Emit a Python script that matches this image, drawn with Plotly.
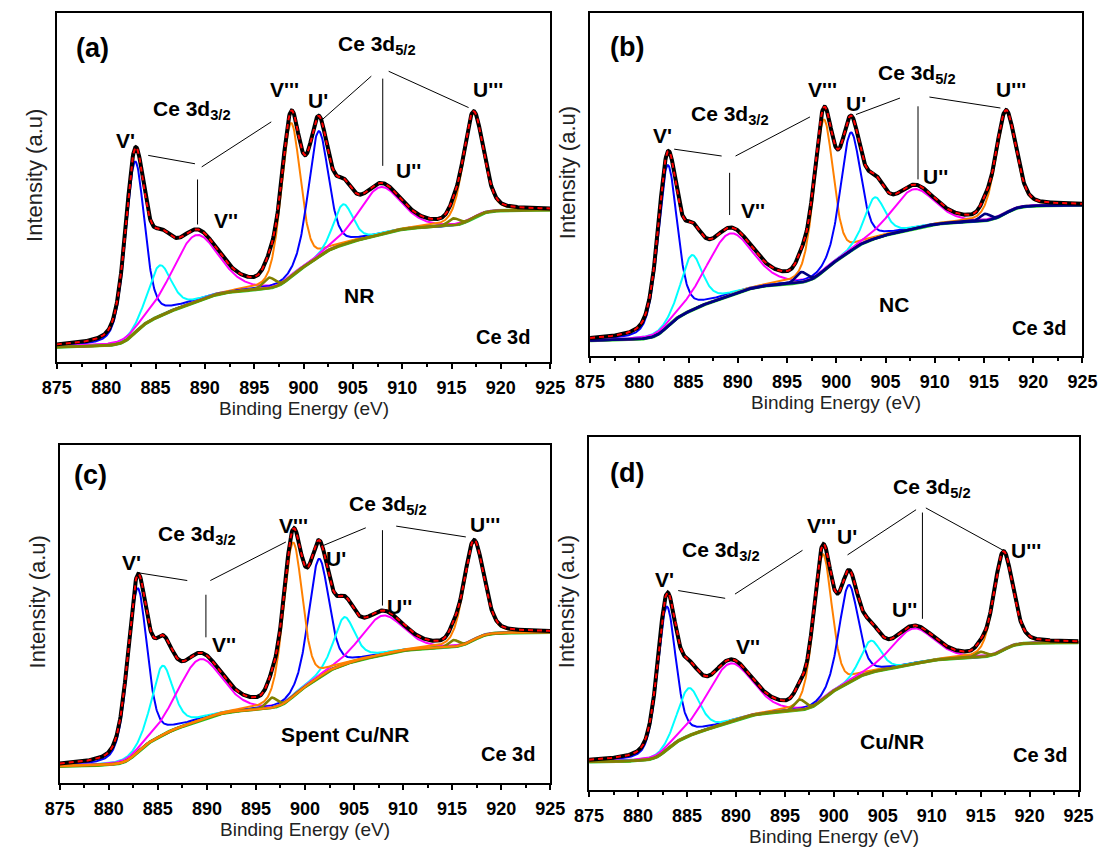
import numpy as np
import plotly.graph_objects as go

W, H = 1114, 848

# ---------------- data ----------------
# binding-energy grid of the spectra (eV)
energy = np.round(np.arange(875.0, 925.0001, 0.05), 3)

peak_names = ["V'", "V sat", "V''", "sat1", "V'''", "U'", "U sat", "U''", "sat2", "U'''"]

# (a) NR
a_centers = [882.9, 885.4, 889.0, 896.5, 898.7, 901.5, 904.0, 907.7, 915.2, 917.2]
a_heights = [49.0, 14.5, 19.0, 3.0, 44.0, 36.0, 11.5, 13.5, 2.0, 30.0]
a_fwhm    = [2.3, 2.8, 5.5, 1.4, 2.3, 2.4, 2.3, 5.0, 1.3, 2.4]
a_mix     = [0.35, 0.35, 0.3, 0.2, 0.3, 0.3, 0.3, 0.3, 0.2, 0.3]
a_bg      = [4.3, 43.6]

# (b) NC
b_centers = [882.85, 885.3, 889.1, 896.45, 898.7, 901.45, 903.9, 907.8, 915.1, 917.2]
b_heights = [47.0, 16.0, 18.0, 3.0, 44.0, 34.5, 12.0, 11.5, 2.0, 29.5]
b_fwhm    = [2.3, 2.6, 5.5, 1.3, 2.3, 2.4, 2.4, 5.0, 1.2, 2.4]
b_mix     = [0.35, 0.5, 0.3, 0.2, 0.3, 0.3, 0.45, 0.3, 0.2, 0.3]
b_bg      = [4.5, 44.0]

# (c) Spent Cu/NR
c_centers = [882.9, 885.45, 889.2, 896.6, 898.75, 901.4, 904.0, 907.85, 915.15, 917.2]
c_heights = [48.5, 20.5, 18.0, 3.0, 45.5, 35.0, 14.0, 11.5, 2.0, 29.0]
c_fwhm    = [2.3, 2.6, 5.3, 1.3, 2.3, 2.4, 2.5, 5.0, 1.2, 2.4]
c_mix     = [0.35, 0.45, 0.3, 0.2, 0.3, 0.3, 0.5, 0.3, 0.2, 0.3]
c_bg      = [5.0, 44.6]

# (d) Cu/NR
d_centers = [882.9, 885.15, 889.3, 896.5, 898.85, 901.5, 903.75, 908.05, 915.0, 917.3]
d_heights = [40.5, 13.5, 16.5, 3.0, 41.0, 27.5, 9.0, 10.0, 1.5, 27.5]
d_fwhm    = [2.2, 2.7, 5.4, 1.3, 2.2, 2.3, 2.4, 5.0, 1.2, 2.3]
d_mix     = [0.35, 0.35, 0.3, 0.2, 0.3, 0.3, 0.3, 0.3, 0.2, 0.3]
d_bg      = [8.0, 41.8]

sample_names = ["NR", "NC", "Spent Cu/NR", "Cu/NR"]
panel_letters = ["(a)", "(b)", "(c)", "(d)"]
tick_values = [875, 880, 885, 890, 895, 900, 905, 910, 915, 920, 925]

# ---------------- styling / layout ----------------
FONT = "Liberation Sans, Arial, sans-serif"
BLUE, CYAN, MAG, ORANGE = "#0000FF", "#00FFFF", "#FF00FF", "#FF8000"
OLIVE, NAVY, LIME = "#808000", "#000080", "#22CC22"

# pixel boxes of the four frames: left, right, top, bottom
boxes = [(43, 550, 13, 362), (591, 1097, 13, 356), (46, 550, 445, 783), (590, 1093, 437, 790)]

panels = [
    dict(c=a_centers, h=a_heights, w=a_fwhm, m=a_mix, bg=a_bg, sat=OLIVE, last_orange=False),
    dict(c=b_centers, h=b_heights, w=b_fwhm, m=b_mix, bg=b_bg, sat=NAVY, last_orange=False),
    dict(c=c_centers, h=c_heights, w=c_fwhm, m=c_mix, bg=c_bg, sat=OLIVE, last_orange=True),
    dict(c=d_centers, h=d_heights, w=d_fwhm, m=d_mix, bg=d_bg, sat=OLIVE, last_orange=False),
]

# label placements (data coordinates of each panel)
labels = [
    dict(letter=(878.6, 90.0), d52=(907.4, 90.7), d32=(888.7, 72.1), V1=(882.0, 63.5), V2=(892.1, 40.6),
         V3=(898.1, 78.0), U1=(901.5, 75.0), U2=(910.6, 54.9), U3=(918.7, 78.0), name=(905.6, 19.1),
         ce=(920.2, 7.2),
         lines=[(884.26, 59.2, 889.0, 56.8), (889.68, 55.9, 896.73, 68.8), (889.26, 52.3, 889.26, 39.4),
                (906.87, 81.9, 901.76, 69.1), (908.03, 81.2, 908.03, 56.2), (908.63, 83.3, 916.73, 72.9)]),
    dict(letter=(878.7, 90.1), d52=(908.2, 82.3), d32=(889.2, 70.2), V1=(882.4, 64.4), V2=(891.5, 42.5),
         V3=(898.6, 77.7), U1=(902.0, 73.6), U2=(910.1, 52.4), U3=(917.7, 77.7), name=(905.9, 15.1),
         ce=(920.6, 8.1),
         lines=[(883.54, 60.3, 888.36, 58.3), (889.77, 58.3, 897.33, 69.7), (889.17, 53.4, 889.17, 41.1),
                (906.47, 75.2, 902.0, 70.4), (908.3, 72.8, 908.3, 51.5), (909.46, 75.5, 916.67, 72.3)]),
    dict(letter=(878.1, 91.1), d52=(908.5, 82.2), d32=(889.0, 73.3), V1=(882.3, 65.3), V2=(891.7, 41.1),
         V3=(898.8, 76.2), U1=(903.2, 66.3), U2=(909.6, 52.2), U3=(918.4, 76.5), name=(904.1, 14.4),
         ce=(920.7, 8.6),
         lines=[(883.2, 62.1, 888.0, 59.9), (890.35, 59.9, 898.05, 71.3), (889.9, 55.7, 889.9, 43.1),
                (906.2, 75.5, 901.9, 70.3), (907.9, 74.8, 907.9, 52.5), (909.3, 76.0, 916.4, 72.8)]),
    dict(letter=(878.9, 89.8), d52=(910.0, 85.5), d32=(888.5, 67.6), V1=(882.7, 59.7), V2=(891.2, 40.6),
         V3=(898.7, 74.9), U1=(901.3, 71.8), U2=(907.2, 51.0), U3=(919.6, 67.9), name=(905.9, 13.7),
         ce=(921.1, 9.9),
         lines=[(884.1, 56.5, 888.9, 54.3), (889.9, 55.5, 896.8, 67.9),
                (908.4, 79.4, 901.4, 66.6), (909.05, 78.6, 909.05, 48.5), (909.4, 79.9, 917.3, 67.9)]),
]


def pseudo_voigt(x, c, h, w, m):
    t = 4.0 * (x - c) ** 2 / w ** 2
    return h * ((1 - m) * np.exp(-np.log(2) * t) + m / (1 + t))


fig = go.Figure()
annotations = []
shapes = []

for i, p in enumerate(panels):
    n = "" if i == 0 else str(i + 1)
    xa, ya = "x" + n, "y" + n
    comps = [pseudo_voigt(energy, c, h, w, m) for c, h, w, m in zip(p["c"], p["h"], p["w"], p["m"])]
    total = np.sum(comps, axis=0)
    cum = np.cumsum(total)
    shirley = p["bg"][0] + (p["bg"][1] - p["bg"][0]) * cum / cum[-1]
    fit = shirley + total

    colors = [BLUE, CYAN, MAG, p["sat"], ORANGE, BLUE, CYAN, MAG, p["sat"], ORANGE]
    order = [0, 1, 2, 5, 6, 7, 3, 8, 4, 9] if p["last_orange"] else [0, 1, 2, 4, 5, 6, 7, 9, 3, 8]

    fig.add_trace(go.Scatter(x=energy, y=shirley, mode="lines", line=dict(color=LIME, width=3.5),
                             xaxis=xa, yaxis=ya, showlegend=False, hoverinfo="skip"))
    for k in order:
        wdt = 2.6 if k in (3, 8) else 2.0
        fig.add_trace(go.Scatter(x=energy, y=shirley + comps[k], mode="lines",
                                 line=dict(color=colors[k], width=wdt),
                                 xaxis=xa, yaxis=ya, showlegend=False, name=peak_names[k]))
    fig.add_trace(go.Scatter(x=energy, y=fit, mode="lines", line=dict(color="black", width=4),
                             xaxis=xa, yaxis=ya, showlegend=False, name="data"))
    fig.add_trace(go.Scatter(x=energy, y=fit, mode="lines",
                             line=dict(color="#FF0000", width=2, dash="5px,4px"),
                             xaxis=xa, yaxis=ya, showlegend=False, name="fit"))

    l, r, t, b = boxes[i]
    axis_common = dict(showline=True, mirror=True, linecolor="black", linewidth=2, showgrid=False,
                       zeroline=False)
    fig.layout["xaxis" + n] = dict(
        domain=[l / W, r / W], anchor=ya, range=[875, 925], tickmode="array", tickvals=tick_values,
        ticks="outside", ticklen=5, tickwidth=1.5, tickcolor="black",
        minor=dict(ticks="outside", ticklen=3, tickwidth=1.5, tickcolor="black",
                   tickvals=[v + 2.5 for v in tick_values[:-1]]),
        tickfont=dict(family=FONT, size=18, color="black", weight="bold"), ticklabelstandoff=3,
        **axis_common)
    fig.layout["yaxis" + n] = dict(domain=[1 - b / H, 1 - t / H], anchor=xa, range=[0, 100],
                                   showticklabels=False, ticks="", **axis_common)

    L = labels[i]

    def add_text(txt, pos, size=21, weight="bold"):
        annotations.append(dict(x=pos[0], y=pos[1], xref=xa, yref=ya, text=txt, showarrow=False,
                                font=dict(family=FONT, size=size, color="black", weight=weight),
                                xanchor="center", yanchor="middle"))

    add_text(panel_letters[i], L["letter"], size=27)
    add_text("Ce 3d<sub>5/2</sub>", L["d52"])
    add_text("Ce 3d<sub>3/2</sub>", L["d32"])
    add_text("V'", L["V1"])
    add_text("V''", L["V2"])
    add_text("V'''", L["V3"])
    add_text("U'", L["U1"])
    add_text("U''", L["U2"])
    add_text("U'''", L["U3"])
    add_text(sample_names[i], L["name"])
    add_text("Ce 3d", L["ce"], size=20)
    for (x0, y0, x1, y1) in L["lines"]:
        shapes.append(dict(type="line", xref=xa, yref=ya, x0=x0, y0=y0, x1=x1, y1=y1,
                           line=dict(color="black", width=1)))

    # axis titles (paper coordinates)
    annotations.append(dict(x=(l + r) / 2 / W, y=1 - (b + 46) / H, xref="paper", yref="paper",
                            text="Binding Energy (eV)", showarrow=False,
                            font=dict(family=FONT, size=19, color="#222222"),
                            xanchor="center", yanchor="middle"))
    annotations.append(dict(x=(l - 23) / W, y=1 - ((t + b) / 2 - 12) / H, xref="paper", yref="paper",
                            text="Intensity (a.u)", showarrow=False, textangle=-90,
                            font=dict(family=FONT, size=22, color="#222222"),
                            xanchor="center", yanchor="middle"))

fig.update_layout(width=W, height=H, margin=dict(l=0, r=0, t=0, b=0), autosize=False,
                  paper_bgcolor="white", plot_bgcolor="white", annotations=annotations, shapes=shapes,
                  showlegend=False)

fig.write_html("out.html", config={"displayModeBar": False},
               post_script="document.body.style.margin='0';document.body.style.overflow='hidden';")
